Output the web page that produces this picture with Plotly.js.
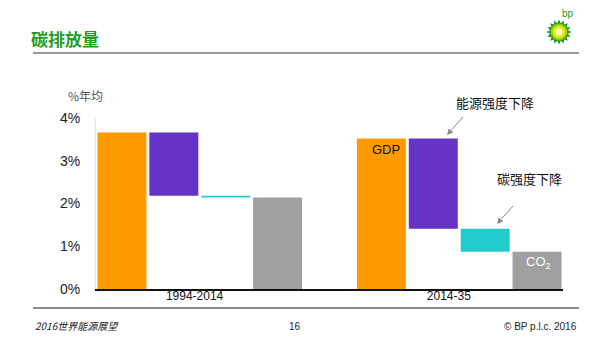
<!DOCTYPE html>
<html>
<head>
<meta charset="utf-8">
<script src="https://cdn.plot.ly/plotly-3.0.1.min.js"></script>
<style>html,body{margin:0;padding:0;background:#fff;}#chart{width:600px;height:337px;}</style>
</head>
<body>
<div id="chart"></div>
<script>
// Data (% per year, average)
const periods = ["1994-2014", "2014-35"];
const gdpGrowth = [3.66, 3.52];
const energyIntensityChange = [-1.48, -2.11];
const carbonIntensityChange = [-0.04, -0.54];
const co2Growth = [2.14, 0.87];
const yTickVals = [0, 1, 2, 3, 4];
const yTickText = ["0%", "1%", "2%", "3%", "4%"];

// Layout geometry
const W = 600, H = 337;
const mL = 96, mR = 37, mT = 118, mB = 48;
const pw = W - mL - mR, ph = H - mT - mB;
const px = x => (x - mL) / pw;
const py = y => (H - mB - y) / ph;

const xGdp = [0, 5], xEn = [1, 6], xCa = [2, 7], xCo = [3, 8];
const enBase = gdpGrowth.slice();
const caBase = gdpGrowth.map((g, i) => g + energyIntensityChange[i]);

const barW = 0.944;
const font = "Liberation Sans, Arial, Noto Sans CJK SC, sans-serif";
const cjk = "Noto Sans CJK SC, Liberation Sans, sans-serif";

const traces = [
  {type: "bar", x: xGdp, y: gdpGrowth, base: [0, 0], width: barW, marker: {color: "#FF9900"}, hoverinfo: "skip"},
  {type: "bar", x: xEn, y: energyIntensityChange, base: enBase, width: barW, marker: {color: "#6633C6"}, hoverinfo: "skip"},
  {type: "bar", x: xCa, y: carbonIntensityChange, base: caBase, width: barW, marker: {color: "#22CCCC"}, hoverinfo: "skip"},
  {type: "bar", x: xCo, y: co2Growth, base: [0, 0], width: barW, marker: {color: "#A0A0A0"}, hoverinfo: "skip"}
];

// Logo sunburst path (decoration)
function starPath(cx, cy, rO, rI, n) {
  let d = "";
  for (let k = 0; k < 2 * n; k++) {
    const r = k % 2 === 0 ? rO : rI;
    const a = Math.PI * k / n;
    const X = cx + r * Math.cos(a), Y = cy + r * Math.sin(a);
    d += (k === 0 ? "M" : "L") + px(X).toFixed(4) + "," + py(Y).toFixed(4);
  }
  return d + "Z";
}
function circ(cx, cy, r, color) {
  return {type: "circle", xref: "paper", yref: "paper", x0: px(cx - r), x1: px(cx + r), y0: py(cy + r), y1: py(cy - r),
    fillcolor: color, line: {width: 0}, layer: "above"};
}
// Arrow (decoration): line + head, pixel coords converted to paper
function arrow(tx, ty, hx, hy) {
  const dx = hx - tx, dy = hy - ty, L = Math.hypot(dx, dy);
  const ux = dx / L, uy = dy / L, len = 6, hw = 3;
  const bx = hx - ux * len, by = hy - uy * len;
  const p1x = bx - uy * hw, p1y = by + ux * hw, p2x = bx + uy * hw, p2y = by - ux * hw;
  return [
    {type: "line", xref: "paper", yref: "paper", x0: px(tx), y0: py(ty), x1: px(bx), y1: py(by), line: {color: "#888", width: 1}},
    {type: "path", xref: "paper", yref: "paper", fillcolor: "#888", line: {width: 0},
     path: "M" + px(hx) + "," + py(hy) + "L" + px(p1x) + "," + py(p1y) + "L" + px(p2x) + "," + py(p2y) + "Z"}
  ];
}

const shapes = [
  {type: "line", xref: "paper", yref: "paper", x0: px(33), x1: px(579), y0: py(53), y1: py(53), line: {color: "#777", width: 1.5}},
  {type: "line", xref: "paper", yref: "paper", x0: px(33), x1: px(579), y0: py(308), y1: py(308), line: {color: "#666", width: 1.5}},
  {type: "path", xref: "paper", yref: "paper", path: starPath(559, 32, 12.5, 9, 16), fillcolor: "#1E9A1E", line: {width: 0}, layer: "above"},
  circ(559, 32, 8.5, "#8CC81E"),
  circ(559, 32, 6.5, "#F2E600"),
  circ(559, 32, 3.5, "#FFFBD0"),
  ...arrow(463, 117, 447, 135),
  ...arrow(513, 206, 497, 224)
];

const annotations = [
  {xref: "paper", yref: "paper", x: px(29), y: py(38), xanchor: "left", yanchor: "middle", showarrow: false,
   text: "<b>碳排放量</b>", font: {family: cjk, size: 17, color: "#239B23"}},
  {xref: "paper", yref: "paper", x: px(568), y: py(13), xanchor: "center", yanchor: "middle", showarrow: false,
   text: "bp", font: {family: font, size: 10, color: "#1E9A1E"}},
  {xref: "paper", yref: "paper", x: px(85), y: py(95), xanchor: "center", yanchor: "middle", showarrow: false,
   text: "%年均", font: {family: cjk, size: 12, color: "#555"}},
  {x: 5.08, y: 3.27, xref: "x", yref: "y", showarrow: false, text: "GDP", font: {family: font, size: 13, color: "#111"}},
  {x: 8.02, y: 0.61, xref: "x", yref: "y", showarrow: false, text: "CO<sub>2</sub>", font: {family: font, size: 13, color: "#fff"}},
  {xref: "paper", yref: "paper", x: px(495), y: py(103), xanchor: "center", yanchor: "middle", showarrow: false,
   text: "能源强度下降", font: {family: cjk, size: 13, color: "#111"}},
  {xref: "paper", yref: "paper", x: px(529), y: py(178), xanchor: "center", yanchor: "middle", showarrow: false,
   text: "碳强度下降", font: {family: cjk, size: 13, color: "#111"}},
  {xref: "paper", yref: "paper", x: px(33), y: py(325), xanchor: "left", yanchor: "middle", showarrow: false,
   text: "<i>2016世界能源展望</i>", font: {family: cjk, size: 10, color: "#222"}},
  {xref: "paper", yref: "paper", x: px(295), y: py(326), xanchor: "center", yanchor: "middle", showarrow: false,
   text: "16", font: {family: font, size: 10, color: "#222"}},
  {xref: "paper", yref: "paper", x: px(579), y: py(326), xanchor: "right", yanchor: "middle", showarrow: false,
   text: "© BP p.l.c. 2016", font: {family: font, size: 10, color: "#222"}}
];

const layout = {
  width: W, height: H,
  margin: {l: mL, r: mR, t: mT, b: mB, pad: 0},
  paper_bgcolor: "#fff", plot_bgcolor: "#fff",
  showlegend: false,
  barmode: "overlay",
  font: {family: font, color: "#111"},
  xaxis: {range: [-0.5, 8.5], showgrid: false, zeroline: false, showline: true, linecolor: "#111", linewidth: 1.5,
    tickvals: [1.4, 6.3], ticktext: periods, ticks: "", tickfont: {family: font, size: 12, color: "#111"},
    ticklabelstandoff: -5, fixedrange: true},
  yaxis: {range: [0, 4], tickvals: yTickVals, ticktext: yTickText, showgrid: false, zeroline: false,
    showline: true, linecolor: "#e4e4e4", linewidth: 1, ticks: "", tickfont: {family: font, size: 14, color: "#222"},
    ticklabelstandoff: 12, fixedrange: true},
  shapes: shapes,
  annotations: annotations
};

Plotly.newPlot("chart", traces, layout, {displayModeBar: false, staticPlot: true});
</script>
</body>
</html>
